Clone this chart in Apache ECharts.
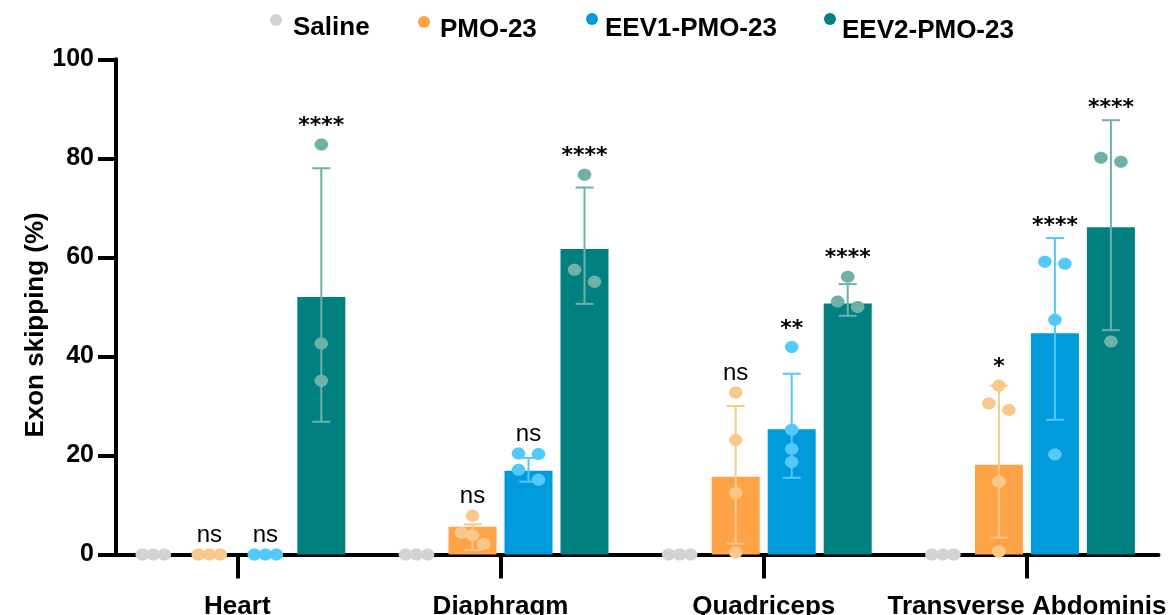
<!DOCTYPE html>
<html>
<head>
<meta charset="utf-8">
<script src="https://cdn.jsdelivr.net/npm/echarts@6/dist/echarts.min.js"></script>
<style>
  html, body { margin: 0; padding: 0; background: #ffffff; }
  #chart { width: 1175px; height: 615px; }
</style>
</head>
<body>
<div id="chart"></div>
<script>
// ---- data ----
const categories = ['Heart', 'Diaphragm', 'Quadriceps', 'Transverse Abdominis'];
const groups = ['Saline', 'PMO-23', 'EEV1-PMO-23', 'EEV2-PMO-23'];
const yTicks = [0, 20, 40, 60, 80, 100];

// group means (%)
const salineMean = [0, 0, 0, 0];
const pmoMean = [0, 5.6, 15.7, 18.1];
const eev1Mean = [0, 16.9, 25.3, 44.7];
const eev2Mean = [52.0, 61.7, 50.7, 66.1];

// error bar ends (SD)
const salineErrLow = [0, 0, 0, 0];
const salineErrHigh = [0, 0, 0, 0];
const pmoErrLow = [0, 0.9, 2.2, 3.4];
const pmoErrHigh = [0, 6.1, 30.0, 34.1];
const eev1ErrLow = [0, 14.7, 15.5, 27.2];
const eev1ErrHigh = [0, 19.5, 36.5, 63.9];
const eev2ErrLow = [26.8, 50.6, 48.2, 45.3];
const eev2ErrHigh = [78.0, 74.1, 54.6, 87.7];

// individual animals (%)
const salinePoints = [[0, 0, 0], [0, 0, 0], [0, 0, 0], [0, 0, 0]];
const pmoPoints = [[0, 0, 0], [7.8, 4.4, 3.9, 2.1], [32.7, 23.1, 12.4, 0.4], [34.1, 30.5, 29.2, 14.7, 0.6]];
const eev1Points = [[0, 0, 0], [20.4, 20.3, 17.1, 15.1], [41.9, 25.2, 21.3, 18.7], [58.7, 59.1, 47.4, 20.2]];
const eev2Points = [[82.8, 42.6, 35.1], [76.7, 57.5, 55.1], [56.1, 51.1, 50.0], [80.1, 79.3, 43.0]];

// significance versus saline
const salineSig = ['', '', '', ''];
const pmoSig = ['ns', 'ns', 'ns', '*'];
const eev1Sig = ['ns', 'ns', '**', '****'];
const eev2Sig = ['****', '****', '****', '****'];

// ---- styling ----
const FONT = '"Liberation Sans", Arial, Helvetica, sans-serif';
const STAR_FONT = '"DejaVu Sans", "Liberation Sans", sans-serif';
const barColors = ['#d3d3d3', '#fea446', '#009bdc', '#008080'];
const pointColors = ['#d3d3d3', '#f9c88b', '#52c8fb', '#6eb1a8'];
const BAR_WIDTH = 48;
const BAR_GAP = '16.67%';
const DOT_RX = 6.8;
const DOT_RY = 6;
const CAP_HALF = 9;

const means = [salineMean, pmoMean, eev1Mean, eev2Mean];
const errLows = [salineErrLow, pmoErrLow, eev1ErrLow, eev2ErrLow];
const errHighs = [salineErrHigh, pmoErrHigh, eev1ErrHigh, eev2ErrHigh];
const points = [salinePoints, pmoPoints, eev1Points, eev2Points];
const sigs = [salineSig, pmoSig, eev1Sig, eev2Sig];

// spread dots that overlap vertically into a centred row
function swarm(pys) {
  const order = pys.map(function (y, i) { return i; }).sort(function (a, b) { return pys[a] - pys[b]; });
  const clusters = [];
  order.forEach(function (i) {
    const last = clusters[clusters.length - 1];
    if (last && pys[i] - pys[last[last.length - 1]] < 2 * DOT_RY) last.push(i);
    else clusters.push([i]);
  });
  const dx = pys.map(function () { return 0; });
  clusters.forEach(function (cl) {
    const n = cl.length;
    const step = n === 2 ? 20 : 11;
    cl.forEach(function (i, j) { dx[i] = (j - (n - 1) / 2) * step; });
  });
  return dx;
}

function groupOffset(api, g) {
  const layout = api.barLayout({ barWidth: BAR_WIDTH, barGap: BAR_GAP, count: groups.length });
  return layout[g].offsetCenter;
}

const series = [];

// bars
groups.forEach(function (name, g) {
  series.push({
    type: 'bar',
    name: name,
    data: means[g],
    barWidth: BAR_WIDTH,
    barGap: BAR_GAP,
    itemStyle: { color: barColors[g] },
    z: 2,
    silent: true
  });
});

// error bars
groups.forEach(function (name, g) {
  series.push({
    type: 'custom',
    name: name + ' SD',
    data: categories.map(function (c, i) { return [i, errLows[g][i], errHighs[g][i]]; }),
    encode: { x: 0, y: [1, 2] },
    z: 3,
    silent: true,
    renderItem: function (params, api) {
      const c = api.value(0);
      const lo = api.value(1), hi = api.value(2);
      if (hi === lo) return { type: 'group', children: [] };
      const off = groupOffset(api, g);
      const pHi = api.coord([c, hi]);
      const pLo = api.coord([c, lo]);
      const x = pHi[0] + off;
      const st = { stroke: pointColors[g], lineWidth: 2 };
      return {
        type: 'group',
        children: [
          { type: 'line', shape: { x1: x, y1: pHi[1], x2: x, y2: pLo[1] }, style: st },
          { type: 'line', shape: { x1: x - CAP_HALF, y1: pHi[1], x2: x + CAP_HALF, y2: pHi[1] }, style: st },
          { type: 'line', shape: { x1: x - CAP_HALF, y1: pLo[1], x2: x + CAP_HALF, y2: pLo[1] }, style: st }
        ]
      };
    }
  });
});

// individual animals
groups.forEach(function (name, g) {
  const data = [];
  points[g].forEach(function (pts, c) {
    pts.forEach(function (v, k) { data.push([c, v, k]); });
  });
  series.push({
    type: 'custom',
    name: name + ' animals',
    data: data,
    encode: { x: 0, y: 1 },
    z: 4,
    silent: true,
    renderItem: function (params, api) {
      const c = api.value(0), k = api.value(2);
      const off = groupOffset(api, g);
      const pys = points[g][c].map(function (v) { return api.coord([c, v])[1]; });
      const dxs = swarm(pys);
      const p = api.coord([c, api.value(1)]);
      return {
        type: 'ellipse',
        shape: { cx: p[0] + off + dxs[k], cy: p[1], rx: DOT_RX, ry: DOT_RY },
        style: { fill: pointColors[g] }
      };
    }
  });
});

// significance marks above each bar
groups.forEach(function (name, g) {
  series.push({
    type: 'custom',
    name: name + ' significance',
    data: categories.map(function (c, i) { return [i, means[g][i]]; }),
    encode: { x: 0, y: 1 },
    z: 5,
    silent: true,
    renderItem: function (params, api) {
      const c = api.value(0);
      const txt = sigs[g][c];
      if (!txt) return { type: 'group', children: [] };
      const off = groupOffset(api, g);
      const base = api.coord([c, api.value(1)]);
      let top = base[1];
      if (errHighs[g][c] !== errLows[g][c]) top = Math.min(top, api.coord([c, errHighs[g][c]])[1]);
      points[g][c].forEach(function (v) { top = Math.min(top, api.coord([c, v])[1] - DOT_RY); });
      const star = txt.indexOf('*') >= 0;
      return {
        type: 'text',
        style: {
          text: txt,
          x: base[0] + off,
          y: top - (star ? 12 : 13),
          align: 'center',
          verticalAlign: 'middle',
          fill: '#000',
          font: star ? ('bold 22px ' + STAR_FONT) : ('24px ' + FONT)
        }
      };
    }
  });
});

// legend marker: a circle sitting at the top of a taller item box
function legendIcon(h) {
  return 'path://M0,6A6,6,0,1,1,12,6A6,6,0,1,1,0,6Z M6,' + h;
}

function legendItem(name, left, top, boxH, padLeft) {
  return {
    data: [name],
    left: left,
    top: top,
    padding: 0,
    itemWidth: 12,
    itemHeight: boxH,
    icon: legendIcon(boxH),
    selectedMode: false,
    textStyle: {
      fontFamily: FONT, fontWeight: 'bold', fontSize: 26, color: '#000',
      lineHeight: 20, padding: [0, 0, 0, padLeft]
    }
  };
}

const option = {
  animation: false,
  backgroundColor: '#ffffff',
  legend: [
    legendItem('Saline', 270, 14, 27, 6),
    legendItem('PMO-23', 418, 16, 28, 5),
    legendItem('EEV1-PMO-23', 586, 13, 32, 2),
    legendItem('EEV2-PMO-23', 824, 13, 35, 1)
  ],
  grid: {
    left: 105.7,
    right: 16.5,
    top: 59.3,
    bottom: 60.5,
    containLabel: false,
    outerBoundsMode: 'none'
  },
  xAxis: {
    type: 'category',
    data: categories,
    axisLine: { lineStyle: { color: '#000', width: 4 } },
    axisTick: { show: true, alignWithLabel: true, length: 24, lineStyle: { color: '#000', width: 4 } },
    axisLabel: { interval: 0, margin: 39, color: '#000', fontFamily: FONT, fontWeight: 'bold', fontSize: 26 },
    splitLine: { show: false }
  },
  yAxis: {
    type: 'value',
    min: yTicks[0],
    max: yTicks[yTicks.length - 1],
    interval: yTicks[1] - yTicks[0],
    offset: -10.3,
    name: 'Exon skipping (%)',
    nameLocation: 'middle',
    nameRotate: 90,
    nameGap: 67,
    nameMoveOverlap: false,
    nameTextStyle: { color: '#000', fontFamily: FONT, fontWeight: 'bold', fontSize: 26, padding: [0, 36, 0, 0] },
    axisLine: { show: true, lineStyle: { color: '#000', width: 4 } },
    axisTick: { show: true, length: 18, lineStyle: { color: '#000', width: 4 } },
    axisLabel: { margin: 22, color: '#000', fontFamily: FONT, fontWeight: 'bold', fontSize: 25 },
    splitLine: { show: false }
  },
  series: series
};

const chart = echarts.init(document.getElementById('chart'), null, { renderer: 'canvas' });
chart.setOption(option);
</script>
</body>
</html>
